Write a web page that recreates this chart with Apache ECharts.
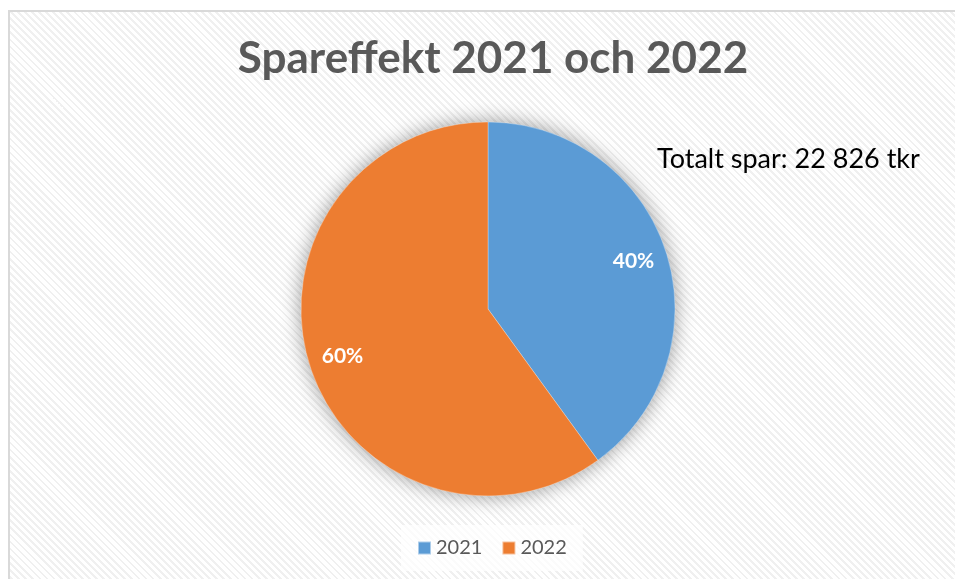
<!DOCTYPE html>
<html>
<head>
<meta charset="utf-8">
<script src="https://cdn.jsdelivr.net/npm/echarts@6/dist/echarts.min.js"></script>
<style>
  html, body { margin: 0; padding: 0; background: #ffffff; }
  #wrap { position: relative; width: 955px; height: 579px; overflow: hidden; }
  /* ram med diagonalt randigt mönster */
  #frame {
    position: absolute; left: 8px; top: 10px; width: 1000px; height: 620px;
    border: 2px solid #d9d9d9;
    background: repeating-linear-gradient(45deg, #ffffff 0px, #ffffff 3px, #f0f0f0 3px, #f0f0f0 5px);
  }
  #mydiv { position: absolute; left: 0; top: 0; width: 955px; height: 579px; }
</style>
</head>
<body>
<div id="wrap">
  <div id="frame"></div>
  <div id="mydiv"></div>
</div>
<script>
// data
var years = ['2021', '2022'];
var shares = [40, 60];
var colors = ['#5B9BD5', '#ED7D31'];
var titleText = 'Spareffekt 2021 och 2022';
var totalText = 'Totalt spar: 22 826 tkr';

var echart = echarts.init(document.getElementById('mydiv'));

var pieData = years.map(function (y, i) {
    return { name: y, value: shares[i], itemStyle: { color: colors[i] } };
});

var option = {
    animation: false,
    backgroundColor: 'transparent',
    title: {
        text: titleText,
        left: 488,
        textAlign: 'center',
        top: 32,
        textStyle: {
            fontFamily: 'Lato',
            fontWeight: 'bold',
            fontSize: 44,
            color: '#595959'
        }
    },
    legend: {
        data: years,
        left: 401,
        bottom: 8,
        itemWidth: 13,
        itemHeight: 13,
        itemGap: 19,
        icon: 'rect',
        padding: [13, 16, 13, 16],
        backgroundColor: 'rgba(255,255,255,0.75)',
        textStyle: { fontFamily: 'Lato', fontSize: 20, color: '#595959' }
    },
    graphic: [{
        type: 'text',
        left: 657,
        top: 146,
        style: {
            text: totalText,
            font: '27px Lato',
            fill: '#000000'
        }
    }],
    series: [
        {
            // skugga bakom cirkeln
            name: 'skugga',
            type: 'pie',
            center: [488, 309],
            radius: 187,
            silent: true,
            label: { show: false },
            labelLine: { show: false },
            data: [{ name: 'bg', value: 1, itemStyle: { color: '#cccccc', shadowBlur: 20, shadowColor: 'rgba(0,0,0,0.4)' } }]
        },
        {
            name: 'Spareffekt',
            type: 'pie',
            center: [488, 309],
            radius: 187,
            startAngle: 90,
            clockwise: true,
            label: { show: false },
            labelLine: { show: false },
            itemStyle: { borderWidth: 0.6, borderColor: 'rgba(255,255,255,0.5)' },
            data: pieData
        },
        {
            // osynlig ring för etikettplacering
            name: 'etiketter',
            type: 'pie',
            center: [488, 309],
            radius: [113, 187],
            startAngle: 90,
            clockwise: true,
            silent: true,
            itemStyle: { color: 'rgba(0,0,0,0)' },
            label: {
                show: true,
                position: 'inside',
                formatter: '{d}%',
                fontFamily: 'Lato',
                fontWeight: 'bold',
                fontSize: 21,
                color: '#ffffff'
            },
            labelLine: { show: false },
            data: years.map(function (y, i) { return { name: y, value: shares[i] }; })
        }
    ]
};

echart.setOption(option);
</script>
</body>
</html>
